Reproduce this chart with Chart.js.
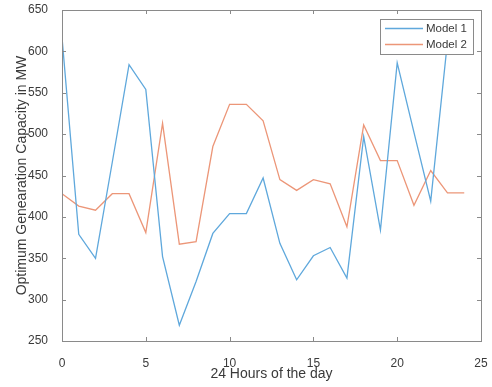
<!DOCTYPE html>
<html>
<head>
<meta charset="utf-8">
<script src="https://cdn.jsdelivr.net/npm/chart.js@4.4.1/dist/chart.umd.min.js"></script>
<style>
  html, body { margin: 0; padding: 0; background: #fff; }
  #wrap { width: 492px; height: 387px; position: relative; }
</style>
</head>
<body>
<div id="wrap"><canvas id="chart"></canvas></div>
<script>
// hourly optimum generation capacity (MW)
const hours1 = [0, 1, 2, 3, 4, 5, 6, 7, 8, 9, 10, 11, 12, 13, 14, 15, 16, 17, 18, 19, 20, 21, 22, 23];
const model1 = [617, 379, 350, 466, 584, 554, 352, 269, 322, 380, 404, 404, 447, 368, 324, 353, 363, 326, 497, 384, 586, 502, 419, 612];

const hours2 = [0, 1, 2, 3, 4, 5, 6, 7, 8, 9, 10, 11, 12, 13, 14, 15, 16, 17, 18, 19, 20, 21, 22, 23, 24];
const model2 = [428, 413, 408, 428, 428, 381, 513, 367, 370, 485, 536, 536, 516, 445, 432, 445, 440, 388, 511, 468, 468, 414, 456, 429, 429];

const seriesNames = ['Model 1', 'Model 2'];
const xTicks = [0, 5, 10, 15, 20, 25];
const yTicks = [250, 300, 350, 400, 450, 500, 550, 600, 650];

const BLUE = 'rgb(95, 168, 220)';
const ORANGE = 'rgb(236, 150, 120)';
const AXIS = '#8a8a8a';
const TEXT = '#3a3a3a';
const FONT = '"Liberation Sans", Arial, sans-serif';

const toPoints = (xs, ys) => xs.map((x, i) => ({ x, y: ys[i] }));

// box around the axes with inward tick marks on all four sides
const axesBox = {
  id: 'axesBox',
  afterDatasetsDraw(chart) {
    const { ctx, chartArea: a, scales } = chart;
    const len = 4;
    ctx.save();
    ctx.strokeStyle = AXIS;
    ctx.lineWidth = 1;
    ctx.strokeRect(Math.round(a.left) + 0.5, Math.round(a.top) + 0.5,
      Math.round(a.right - a.left), Math.round(a.bottom - a.top));
    ctx.beginPath();
    xTicks.forEach(v => {
      const px = Math.round(scales.x.getPixelForValue(v)) + 0.5;
      ctx.moveTo(px, a.bottom); ctx.lineTo(px, a.bottom - len);
      ctx.moveTo(px, a.top); ctx.lineTo(px, a.top + len);
    });
    yTicks.forEach(v => {
      const py = Math.round(scales.y.getPixelForValue(v)) + 0.5;
      ctx.moveTo(a.left, py); ctx.lineTo(a.left + len, py);
      ctx.moveTo(a.right, py); ctx.lineTo(a.right - len, py);
    });
    ctx.stroke();
    ctx.restore();
  }
};

// boxed legend in the upper right corner
const boxLegend = {
  id: 'boxLegend',
  afterDraw(chart) {
    const { ctx, chartArea: a } = chart;
    const w = 93, h = 35;
    const x0 = Math.round(a.right) - 101, y0 = Math.round(a.top) + 9;
    ctx.save();
    ctx.fillStyle = '#fff';
    ctx.fillRect(x0, y0, w, h);
    ctx.strokeStyle = AXIS;
    ctx.lineWidth = 1;
    ctx.strokeRect(x0 + 0.5, y0 + 0.5, w, h);
    ctx.font = '11.5px ' + FONT;
    ctx.textBaseline = 'middle';
    chart.data.datasets.forEach((ds, i) => {
      const cy = y0 + 9.5 + i * 16;
      ctx.strokeStyle = ds.borderColor;
      ctx.lineWidth = 1.3;
      ctx.beginPath();
      ctx.moveTo(x0 + 5, cy);
      ctx.lineTo(x0 + 43, cy);
      ctx.stroke();
      ctx.fillStyle = TEXT;
      ctx.fillText(ds.label, x0 + 46, cy);
    });
    ctx.restore();
  }
};

new Chart(document.getElementById('chart'), {
  type: 'line',
  data: {
    datasets: [
      {
        label: seriesNames[0],
        data: toPoints(hours1, model1),
        borderColor: BLUE,
        borderWidth: 1.3,
        pointRadius: 0,
        tension: 0,
      },
      {
        label: seriesNames[1],
        data: toPoints(hours2, model2),
        borderColor: ORANGE,
        borderWidth: 1.3,
        pointRadius: 0,
        tension: 0,
      },
    ],
  },
  options: {
    responsive: true,
    maintainAspectRatio: false,
    animation: false,
    layout: { padding: { left: 0, top: 10, right: 11, bottom: 0 } },
    plugins: {
      legend: { display: false },
      tooltip: { enabled: false },
    },
    scales: {
      x: {
        type: 'linear',
        min: 0,
        max: 25,
        afterBuildTicks: s => { s.ticks = xTicks.map(v => ({ value: v })); },
        afterFit: s => {
          s.height = 46;
          s.paddingLeft = 0;
          s.paddingRight = 0;
        },
        grid: { display: false },
        border: { display: false },
        ticks: { color: TEXT, font: { family: FONT, size: 12 }, padding: 7, maxRotation: 0 },
        title: {
          display: true,
          text: '24 Hours of the day',
          color: TEXT,
          font: { family: FONT, size: 14 },
          padding: { top: 0, bottom: 4 },
        },
      },
      y: {
        min: 250,
        max: 650,
        afterBuildTicks: s => { s.ticks = yTicks.map(v => ({ value: v })); },
        afterFit: s => {
          s.width = 62;
          s.paddingTop = 0;
          s.paddingBottom = 0;
        },
        grid: { display: false },
        border: { display: false },
        ticks: { color: TEXT, font: { family: FONT, size: 12 }, padding: 6 },
        title: {
          display: true,
          text: 'Optimum Genearation Capacity in MW',
          color: TEXT,
          font: { family: FONT, size: 14 },
          padding: { top: 14, bottom: 0 },
        },
      },
    },
  },
  plugins: [axesBox, boxLegend],
});
</script>
</body>
</html>
